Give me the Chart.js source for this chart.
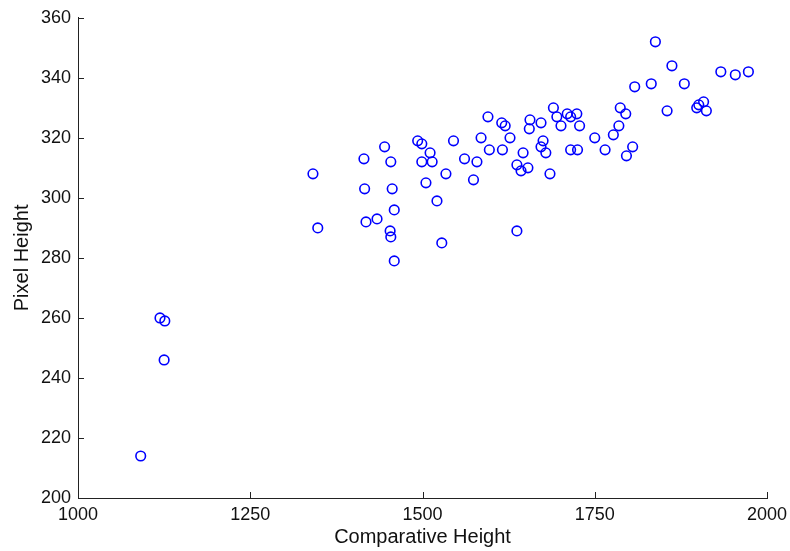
<!DOCTYPE html>
<html lang="en">
<head>
  <meta charset="UTF-8">
  <title>Pixel vs Comparative Height</title>
  <script src="https://cdn.jsdelivr.net/npm/chart.js"></script>
  <style>
    body { margin: 0; background: #fff; }
  </style>
</head>
<body>
  <canvas id="heightChart" width="790" height="551"></canvas>

  <script>
    // values
    const comparativeHeight = [
      1091, 1119, 1126, 1125, 1341, 1348, 1415, 1416, 1418, 1434,
      1445, 1454, 1456, 1459, 1453, 1454, 1459, 1493, 1499, 1511,
      1499, 1514, 1505, 1534, 1521, 1528, 1545, 1561, 1579, 1574,
      1585, 1597, 1616, 1627, 1637, 1646, 1637, 1643, 1653, 1675,
      1672, 1679, 1685, 1595, 1615, 1620, 1656, 1655, 1672, 1690,
      1695, 1710, 1715, 1724, 1701, 1728, 1715, 1725, 1750, 1765,
      1777, 1785, 1787, 1795, 1796, 1805, 1838, 1862, 1933, 1954,
      1973, 1808, 1832, 1880, 1855, 1898, 1901, 1908, 1912
    ];
    const pixelHeight = [
      214, 260, 259, 246, 308, 290, 313, 303, 292, 293,
      317, 312, 303, 296, 289, 287, 279, 319, 318, 315,
      312, 312, 305, 308, 299, 285, 319, 313, 312, 306,
      320, 316, 316, 320, 289, 315, 311, 309, 310, 319,
      317, 315, 308, 327, 325, 324, 326, 323, 325, 330,
      327, 328, 327, 328, 324, 324, 316, 316, 320, 316,
      321, 324, 330, 328, 314, 317, 352, 344, 342, 341,
      342, 337, 338, 338, 329, 330, 331, 332, 329
    ];
    const xTicks = [1000, 1250, 1500, 1750, 2000];
    const yTicks = [200, 220, 240, 260, 280, 300, 320, 340, 360];

    const points = comparativeHeight.map((x, i) => ({ x: x, y: pixelHeight[i] }));

    // matlab style ticks pointing into the plot
    const inwardTicks = {
      id: 'inwardTicks',
      afterDraw(chart) {
        const ctx = chart.ctx;
        const xs = chart.scales.x;
        const ys = chart.scales.y;
        const len = 6;
        ctx.save();
        ctx.strokeStyle = '#222';
        ctx.lineWidth = 1;
        ctx.beginPath();
        xTicks.forEach(v => {
          const px = Math.round(xs.getPixelForValue(v)) + 0.5;
          ctx.moveTo(px, ys.bottom);
          ctx.lineTo(px, ys.bottom - len);
        });
        yTicks.forEach(v => {
          const py = Math.round(ys.getPixelForValue(v)) + 0.5;
          ctx.moveTo(xs.left, py);
          ctx.lineTo(xs.left + len, py);
        });
        ctx.stroke();
        ctx.restore();
      }
    };

    const tickFont = { family: '"Liberation Sans", Arial, sans-serif', size: 18 };
    const titleFont = { family: '"Liberation Sans", Arial, sans-serif', size: 20 };

    new Chart(document.getElementById('heightChart').getContext('2d'), {
      type: 'scatter',
      data: {
        datasets: [{
          data: points,
          pointStyle: 'circle',
          pointRadius: 4.8,
          pointBorderWidth: 1.6,
          borderColor: '#0000ff',
          backgroundColor: 'rgba(0,0,0,0)'
        }]
      },
      options: {
        responsive: false,
        animation: false,
        layout: { padding: { top: 17, right: 23, left: 0, bottom: 0 } },
        plugins: {
          legend: { display: false },
          tooltip: { enabled: false }
        },
        scales: {
          x: {
            type: 'linear',
            min: 1000,
            max: 2000,
            afterBuildTicks: s => { s.ticks = xTicks.map(v => ({ value: v })); },
            afterFit: s => { s.height = 53; s.paddingRight = 0; },
            ticks: {
              color: '#111', font: tickFont, padding: 6, maxRotation: 0,
              callback: v => String(v)
            },
            grid: { drawOnChartArea: false, drawTicks: false },
            border: { color: '#222', width: 1 },
            title: {
              display: true,
              text: 'Comparative Height',
              color: '#111',
              font: titleFont,
              padding: { top: 0, bottom: 2 }
            }
          },
          y: {
            type: 'linear',
            min: 200,
            max: 360,
            afterBuildTicks: s => { s.ticks = yTicks.map(v => ({ value: v })); },
            afterFit: s => { s.width = 78; },
            ticks: { color: '#111', font: tickFont, padding: 7, callback: v => String(v) },
            grid: { drawOnChartArea: false, drawTicks: false },
            border: { color: '#222', width: 1 },
            title: {
              display: true,
              text: 'Pixel Height',
              color: '#111',
              font: titleFont,
              padding: { top: 10, bottom: 0 }
            }
          }
        }
      },
      plugins: [inwardTicks]
    });
  </script>
</body>
</html>
